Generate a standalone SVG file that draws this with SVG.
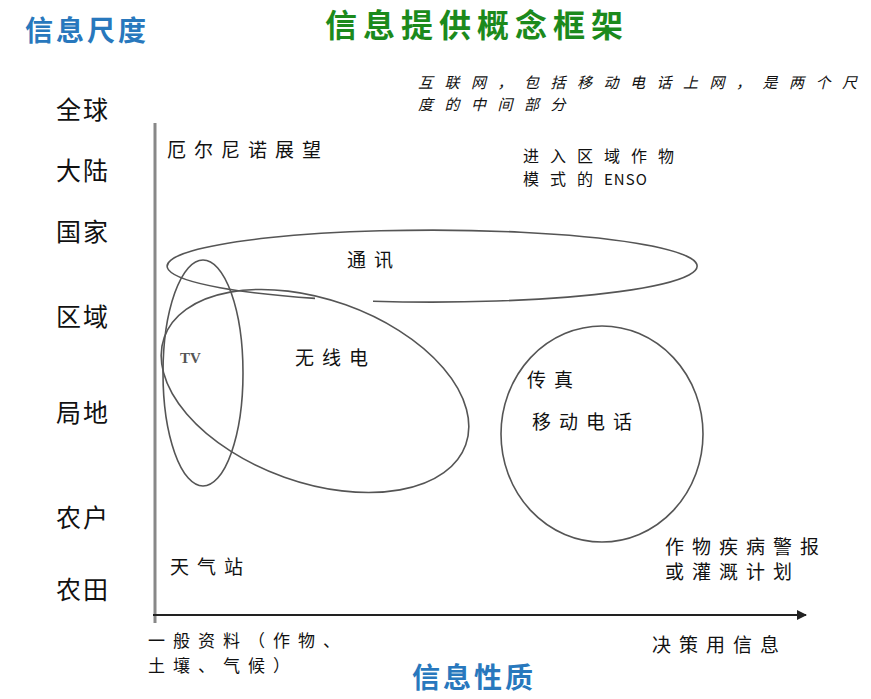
<svg xmlns="http://www.w3.org/2000/svg" width="871" height="699" viewBox="0 0 871 699">
<defs>
<style>
.t{font-family:"Noto Sans CJK SC","Noto Sans",sans-serif;font-size:19px;letter-spacing:8px;fill:#111}
.t2{font-family:"Noto Sans CJK SC","Noto Sans",sans-serif;font-size:16px;letter-spacing:11px;fill:#111}
.t3{font-family:"Noto Sans CJK SC","Noto Sans",sans-serif;font-size:17px;letter-spacing:8px;fill:#111}
.ax{font-family:"Noto Sans CJK SC","Noto Sans",sans-serif;font-size:25px;letter-spacing:2px;fill:#111}
.it{font-family:"Noto Sans CJK SC","Noto Sans",sans-serif;font-size:15px;letter-spacing:11.5px;font-style:italic;fill:#111}
.blue{font-family:"Noto Sans CJK SC","Noto Sans",sans-serif;font-size:28px;font-weight:bold;letter-spacing:3px;fill:#2878bd}
.title{font-family:"Noto Sans CJK SC","Noto Sans",sans-serif;font-size:32px;font-weight:bold;letter-spacing:6px;fill:#1c8a1c}
.shape{fill:none;stroke:#555;stroke-width:1.6}
</style>
<marker id="arr" viewBox="0 0 10 10" refX="9" refY="5" markerWidth="5" markerHeight="5" orient="auto" markerUnits="strokeWidth">
<path d="M0,0 L10,5 L0,10 z" fill="#222"/>
</marker>
</defs>
<rect width="871" height="699" fill="#fff"/>
<g id="titles">
<text class="blue" x="25" y="41">信息尺度</text>
<text class="title" x="325" y="37">信息提供概念框架</text>
<text class="blue" x="412" y="688">信息性质</text>
</g>
<g id="axis-labels">
<text class="ax" x="56" y="119">全球</text>
<text class="ax" x="56" y="180">大陆</text>
<text class="ax" x="56" y="241">国家</text>
<text class="ax" x="56" y="326">区域</text>
<text class="ax" x="56" y="422">局地</text>
<text class="ax" x="56" y="527">农户</text>
<text class="ax" x="56" y="599">农田</text>
<text class="t3" x="148" y="647">一般资料（作物、</text>
<text class="t3" x="148" y="672">土壤、气候）</text>
<text class="t" x="652" y="652">决策用信息</text>
</g>
<g id="connectors">
<line x1="155" y1="123" x2="155" y2="623" stroke="#888" stroke-width="3"/>
<line x1="153" y1="615" x2="806" y2="615" stroke="#222" stroke-width="2" marker-end="url(#arr)"/>
</g>
<g id="node-tongxun">
<path class="shape" d="M373 301.2 A265 36 0 1 0 315 298.4"/>
<text class="t" x="347" y="267">通讯</text>
</g>
<g id="node-wuxiandian">
<ellipse class="shape" cx="315" cy="391" rx="160" ry="91.5" transform="rotate(19.6 315 391)"/>
<text class="t" x="295" y="365">无线电</text>
</g>
<g id="node-tv">
<ellipse class="shape" cx="203" cy="373" rx="40" ry="113"/>
<text x="180" y="363" style="font-family:'Liberation Serif',serif;font-size:15px;font-weight:bold;fill:#555">TV</text>
</g>
<g id="node-mobile">
<ellipse class="shape" cx="602" cy="434" rx="101" ry="108"/>
<text class="t" x="527" y="387">传真</text>
<text class="t" x="532" y="429">移动电话</text>
</g>
<g id="notes">
<text class="t" x="167" y="157">厄尔尼诺展望</text>
<text class="it" x="418" y="88">互联网，包括移动电话上网，是两个尺</text>
<text class="it" x="418" y="110">度的中间部分</text>
<text class="t2" x="523" y="162">进入区域作物</text>
<text class="t2" x="523" y="185">模式的<tspan style="letter-spacing:1px;font-size:15px">ENSO</tspan></text>
<text class="t" x="170" y="574">天气站</text>
<text class="t" x="665" y="554">作物疾病警报</text>
<text class="t" x="665" y="579">或灌溉计划</text>
</g>
</svg>
